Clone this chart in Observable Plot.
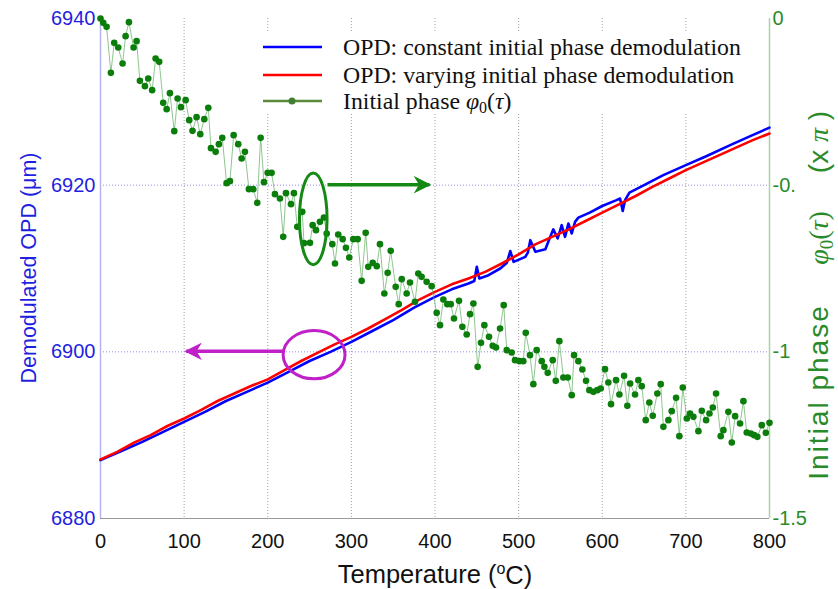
<!DOCTYPE html>
<html><head><meta charset="utf-8">
<script src="https://cdn.jsdelivr.net/npm/d3@7"></script>
<script src="https://cdn.jsdelivr.net/npm/@observablehq/plot@0.6"></script>
<style>body{margin:0;background:#fff}#chart svg{display:block}</style>
</head><body><div id="chart"></div>
<script>
// ---- data ----
const xTicks = [0, 100, 200, 300, 400, 500, 600, 700, 800];
const leftTicks = [6880, 6900, 6920, 6940];
const rightTickLabels = ["-1.5", "-1", "-0.", "0"];
const seriesNames = ["OPD: constant initial phase demodulation", "OPD: varying initial phase demodulation", "Initial phase "];

const redT = [0,20,40,60,80,100,120,140,160,180,200,220,240,260,280,300,320,340,360,380,400,420,440,460,480,500,520,540,560,580,600,620,640,660,680,700,720,740,760,780,800];
const redOPD = [6887.1,6888.0,6889.1,6890.0,6891.1,6892.0,6893.0,6894.1,6895.0,6895.9,6896.7,6897.8,6898.9,6899.9,6900.9,6901.8,6902.8,6903.9,6905.0,6906.2,6907.2,6908.1,6908.8,6909.6,6910.6,6911.7,6912.9,6913.8,6914.7,6915.7,6916.7,6917.7,6918.7,6919.8,6920.8,6921.8,6922.7,6923.6,6924.5,6925.4,6926.2];

const blueT = [0,25,50,75,100,125,150,175,200,225,250,275,300,325,350,375,400,420,440,447,450,453,464,478,486,490,494,508,511,514,520,532,537,541.5,546.7,551.5,555.5,559.5,563.5,567.5,571.4,585,600,617,621.3,624.5,627.3,632.5,650,673,700,725,753,775,800];
const blueOPD = [6887.0,6888.1,6889.2,6890.4,6891.6,6892.8,6894.1,6895.2,6896.3,6897.6,6898.9,6900.0,6901.2,6902.5,6903.8,6905.3,6906.6,6907.5,6908.2,6908.5,6910.2,6908.8,6909.2,6910.0,6910.7,6912.1,6910.8,6911.4,6911.9,6913.4,6912.0,6912.3,6913.6,6914.7,6913.6,6915.2,6913.8,6915.4,6914.2,6915.6,6916.1,6916.7,6917.5,6918.2,6918.4,6916.9,6918.2,6919.1,6920.0,6921.2,6922.4,6923.5,6924.8,6925.8,6926.9];

const phaseT = [0,3.3,7.3,12.4,16.4,21.2,26.4,30,34,39.6,43.2,47.1,53.1,57.1,61.8,65.9,70.2,75,79.1,83,88.2,92.2,96.2,101.8,106.1,110,114.9,119.3,124.1,128.9,132.1,137.7,141.6,145.6,150.8,154.8,159.2,164.7,168.8,172.7,177.5,182.7,187.4,191.5,195.5,199.9,204.6,208.6,214.6,218.5,221.8,227.8,231.3,235.3,241.3,243.3,250.5,253.7,257.7,262.4,267.2,270.5,277.2,280.4,284.3,289.6,293.5,297.5,302.3,307.5,312.3,317.1,320.2,325.5,330.3,334.2,339.4,343.4,347,353,356.6,360.2,366.1,370.1,376.1,380,384,390,396,402,406,410,414.7,418.8,422.7,428.7,432.7,437.9,441.9,445.9,451,455,459,464.6,469,473,477.8,482.2,485.8,491.7,495.7,500.9,505.6,508.5,513.6,517.6,521.6,527.6,530.8,534.8,540.8,544.4,548.7,553.5,558.7,563.5,566.3,571.4,576.2,580.6,584.6,589.4,594.1,598.2,603.3,607.3,610.5,616.5,620.5,626.1,630,633.3,639.2,643.2,647.2,652,656.3,660.4,665.9,669.9,673.1,679.1,683.1,688.3,692.2,696.3,701.1,705,709,715,719,724.2,728.2,732.2,736.1,741.7,744.9,750.8,754.9,758.9,764.8,768.8,772.8,777.6,781.6,785.5,790.8,795.6,800];
const phaseVal = [0,-0.013,-0.025,-0.163,-0.073,-0.087,-0.135,-0.053,-0.011,-0.087,-0.068,-0.187,-0.203,-0.18,-0.215,-0.12,-0.13,-0.253,-0.272,-0.224,-0.338,-0.24,-0.266,-0.245,-0.305,-0.337,-0.296,-0.347,-0.302,-0.268,-0.389,-0.4,-0.377,-0.358,-0.494,-0.488,-0.35,-0.377,-0.42,-0.4,-0.512,-0.512,-0.553,-0.358,-0.491,-0.463,-0.463,-0.527,-0.54,-0.655,-0.524,-0.557,-0.524,-0.625,-0.58,-0.674,-0.673,-0.62,-0.635,-0.61,-0.597,-0.645,-0.677,-0.735,-0.648,-0.662,-0.688,-0.717,-0.662,-0.662,-0.787,-0.643,-0.745,-0.733,-0.743,-0.677,-0.825,-0.763,-0.697,-0.805,-0.857,-0.782,-0.825,-0.792,-0.85,-0.765,-0.775,-0.79,-0.803,-0.883,-0.92,-0.843,-0.857,-0.857,-0.9,-0.847,-0.925,-0.948,-0.887,-0.855,-1.045,-0.973,-0.92,-0.955,-0.982,-0.987,-0.93,-0.86,-0.995,-1.002,-1.025,-1.028,-1.028,-0.943,-1.01,-1.097,-0.995,-1.028,-1.045,-1.063,-1.025,-1.087,-0.968,-1.077,-1.077,-1.13,-1.01,-1.028,-1.053,-1.087,-1.115,-1.12,-1.115,-1.11,-1.052,-1.092,-1.157,-1.085,-1.128,-1.072,-1.162,-1.095,-1.128,-1.085,-1.103,-1.205,-1.152,-1.192,-1.125,-1.097,-1.225,-1.205,-1.178,-1.138,-1.253,-1.107,-1.2,-1.185,-1.195,-1.238,-1.177,-1.205,-1.185,-1.167,-1.125,-1.253,-1.235,-1.18,-1.272,-1.193,-1.215,-1.148,-1.242,-1.245,-1.25,-1.255,-1.22,-1.243,-1.213];

// annotations in data units (temperature, OPD)
const greenEllipse = {cx: 255, cy: 6915.9, rx: 16.5, ry: 5.5};
const greenArrow = {x1: 272, x2: 394, y: 6920};
const purpleEllipse = {cx: 256, cy: 6899.6, rx: 37, ry: 2.9};
const purpleArrow = {x1: 218, x2: 103, y: 6900};

// ---- build ----
const BLUE = "#0000ff", RED = "#ff0000", GREEN = "#0a7d0a";
const AXBLUE = "#1f1fe0", AXGREEN = "#2a8a2a";
const phaseToOPD = p => 6940 + p * 40; // right axis 0..-1.5  ->  6940..6880

const red = redT.map((t, i) => ({t, v: redOPD[i]}));
const blue = blueT.map((t, i) => ({t, v: blueOPD[i]}));
const phase = phaseT.map((t, i) => ({t, v: phaseToOPD(phaseVal[i])}));
const rightLabelOf = new Map(leftTicks.map((d, i) => [d, rightTickLabels[i]]));

const plot = Plot.plot({
  width: 838, height: 589,
  marginLeft: 100, marginRight: 69, marginTop: 18, marginBottom: 71,
  style: {fontFamily: "Liberation Sans, Arial, sans-serif", background: "#fff"},
  x: {domain: [0, 800]},
  y: {domain: [6880, 6940]},
  marks: [
    Plot.gridX(xTicks.slice(1, -1), {stroke: "#888", strokeOpacity: 1, strokeWidth: 0.8, strokeDasharray: "1,2"}),
    Plot.gridY([6900, 6920], {stroke: "#7070e0", strokeOpacity: 1, strokeWidth: 0.8, strokeDasharray: "1,2"}),
    Plot.ruleY([6880], {stroke: "#999", strokeWidth: 1}),
    Plot.ruleX([0], {stroke: "#b4b4f0", strokeWidth: 1.5}),
    Plot.ruleX([800], {stroke: "#a8d4a8", strokeWidth: 1.5}),
    Plot.line(blue, {x: "t", y: "v", stroke: BLUE, strokeWidth: 2.6}),
    Plot.line(red, {x: "t", y: "v", stroke: RED, strokeWidth: 2.6}),
    Plot.line(phase, {x: "t", y: "v", stroke: "#5fae5f", strokeWidth: 0.7}),
    Plot.dot(phase, {x: "t", y: "v", r: 3.3, fill: GREEN, stroke: "none"}),
    Plot.axisY(leftTicks, {anchor: "left", tickSize: 0, tickPadding: 5, fontSize: 20, color: AXBLUE, label: null, tickFormat: d => String(d)}),
    Plot.axisY(leftTicks, {anchor: "right", tickSize: 0, tickPadding: 3, fontSize: 20, color: AXGREEN, label: null,
      tickFormat: d => rightLabelOf.get(d)}),
    Plot.axisX(xTicks, {tickSize: 0, tickPadding: 15, fontSize: 20, color: "#111", label: null})
  ]
});
document.getElementById("chart").appendChild(plot);

const svg = d3.select(plot);
const sx = plot.scale("x"), sy = plot.scale("y");
const X = v => sx.apply(v), Y = v => sy.apply(v);

// defs for arrowheads
const defs = svg.append("defs");
function head(id, color) {
  defs.append("marker").attr("id", id).attr("viewBox", "0 0 10 10").attr("refX", 9).attr("refY", 5)
    .attr("markerWidth", 6).attr("markerHeight", 5).attr("orient", "auto").attr("markerUnits", "strokeWidth")
    .append("path").attr("d", "M0,0 L10,5 L0,10 L3,5 Z").attr("fill", color);
}
head("gh", "#148a14"); head("ph", "#c020c8");

const ann = svg.append("g");
ann.append("ellipse").attr("cx", X(greenEllipse.cx)).attr("cy", Y(greenEllipse.cy))
  .attr("rx", X(greenEllipse.cx + greenEllipse.rx) - X(greenEllipse.cx))
  .attr("ry", Y(greenEllipse.cy - greenEllipse.ry) - Y(greenEllipse.cy))
  .attr("fill", "none").attr("stroke", "#148a14").attr("stroke-width", 3);
ann.append("line").attr("x1", X(greenArrow.x1)).attr("x2", X(greenArrow.x2)).attr("y1", Y(greenArrow.y)).attr("y2", Y(greenArrow.y))
  .attr("stroke", "#148a14").attr("stroke-width", 3.5).attr("marker-end", "url(#gh)");
ann.append("ellipse").attr("cx", X(purpleEllipse.cx)).attr("cy", Y(purpleEllipse.cy))
  .attr("rx", X(purpleEllipse.cx + purpleEllipse.rx) - X(purpleEllipse.cx))
  .attr("ry", Y(purpleEllipse.cy - purpleEllipse.ry) - Y(purpleEllipse.cy))
  .attr("fill", "none").attr("stroke", "#c020c8").attr("stroke-width", 3);
ann.append("line").attr("x1", X(purpleArrow.x1)).attr("x2", X(purpleArrow.x2)).attr("y1", Y(purpleArrow.y)).attr("y2", Y(purpleArrow.y))
  .attr("stroke", "#c020c8").attr("stroke-width", 3.5).attr("marker-end", "url(#ph)");

// legend
const lg = svg.append("g").attr("font-family", "Liberation Serif, Times New Roman, serif").attr("font-size", 23.8)
  .attr("text-anchor", "start").attr("fill", "#111");
lg.append("rect").attr("x", 256).attr("y", 33).attr("width", 506).attr("height", 80).attr("fill", "#fff");
const rows = [47, 75, 101];
[BLUE, RED, "#5a8a3a"].forEach((c, i) => {
  lg.append("line").attr("x1", 263).attr("x2", 322).attr("y1", rows[i]).attr("y2", rows[i]).attr("stroke", c).attr("stroke-width", 2.6);
});
lg.append("circle").attr("cx", 292).attr("cy", rows[2]).attr("r", 3.5).attr("fill", "#3f7f2f");
lg.append("text").attr("x", 343).attr("y", rows[0]).attr("dy", "0.35em").text(seriesNames[0]);
lg.append("text").attr("x", 343).attr("y", rows[1]).attr("dy", "0.35em").text(seriesNames[1]);
const t3 = lg.append("text").attr("x", 343).attr("y", rows[2]).attr("dy", "0.35em");
t3.append("tspan").text(seriesNames[2]);
t3.append("tspan").attr("font-style", "italic").text("φ");
t3.append("tspan").attr("font-size", 16).attr("dy", "0.25em").text("0");
t3.append("tspan").attr("dy", "-0.17em").text("(");
t3.append("tspan").attr("font-style", "italic").text("τ");
t3.append("tspan").text(")");

// axis titles
svg.append("text").attr("transform", "translate(28,268) rotate(-90)").attr("text-anchor", "middle")
  .attr("font-size", 21.5).attr("fill", AXBLUE).attr("dy", "0.35em").text("Demodulated OPD (μm)");
const xt = svg.append("text").attr("x", 435).attr("y", 574).attr("text-anchor", "middle").attr("font-size", 25.5).attr("fill", "#111").attr("dy", "0.35em");
xt.append("tspan").text("Temperature (");
xt.append("tspan").attr("font-size", 16).attr("dy", "-0.55em").text("o");
xt.append("tspan").attr("dy", "0.38em").text("C)");

// right title in three pieces
const SERIF = "Liberation Serif, serif";
svg.append("text").attr("transform", "translate(818,392) rotate(-90)").attr("text-anchor", "middle")
  .attr("font-size", 28).attr("letter-spacing", 2).attr("fill", AXGREEN).attr("dy", "0.35em").text("Initial phase");
const rp = svg.append("text").attr("transform", "translate(818,238) rotate(-90)").attr("text-anchor", "middle")
  .attr("font-size", 28).attr("fill", AXGREEN).attr("dy", "0.35em").attr("font-family", SERIF);
rp.append("tspan").attr("font-style", "italic").text("φ");
rp.append("tspan").attr("font-size", 19).attr("dy", "0.25em").text("0");
rp.append("tspan").attr("dy", "-0.17em").text("(");
rp.append("tspan").attr("font-style", "italic").text("τ");
rp.append("tspan").text(")");
const rx = svg.append("text").attr("transform", "translate(818,142) rotate(-90)").attr("text-anchor", "middle")
  .attr("font-size", 28).attr("fill", AXGREEN).attr("dy", "0.35em");
rx.append("tspan").text("(x ");
rx.append("tspan").attr("font-family", SERIF).attr("font-style", "italic").text("π");
rx.append("tspan").text(" )");
</script></body></html>
